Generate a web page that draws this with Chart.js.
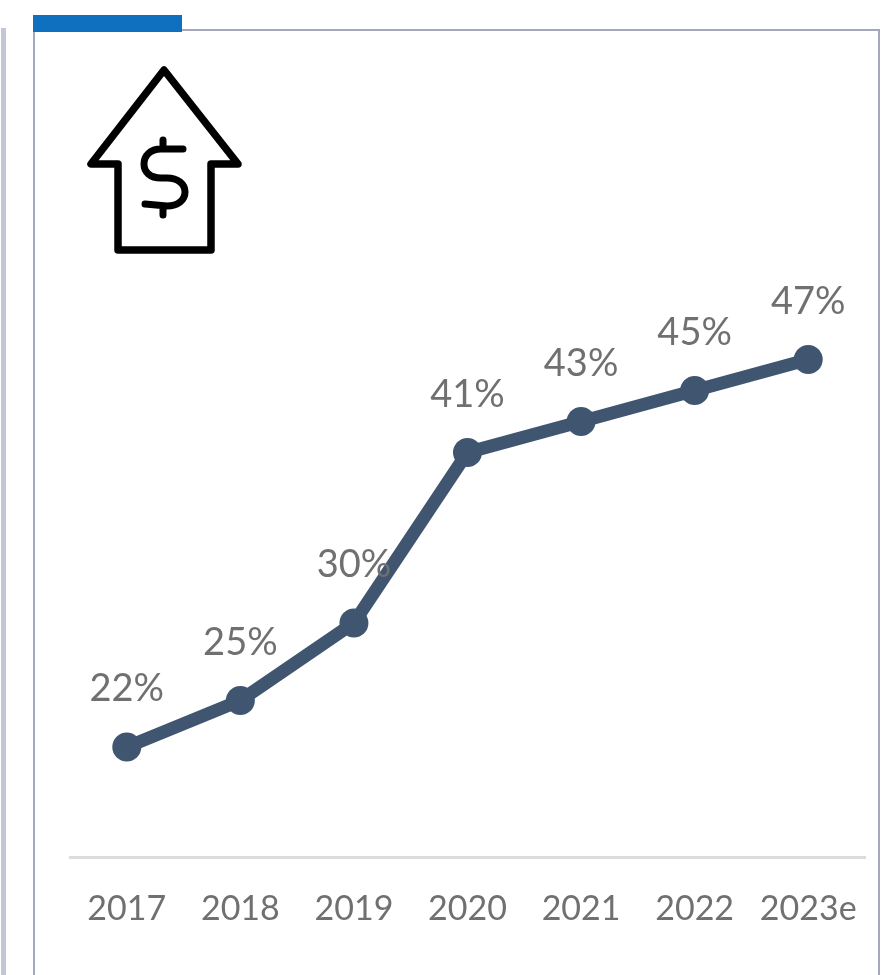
<!DOCTYPE html>
<html>
<head>
<meta charset="utf-8">
<script src="https://cdn.jsdelivr.net/npm/chart.js@4"></script>
<style>
html,body{margin:0;padding:0;background:#fff;width:886px;height:975px;overflow:hidden}
#wrap{position:relative;width:886px;height:975px;filter:blur(0.6px)}
#chart{position:absolute;left:0;top:0}
.frame{position:absolute;left:33px;top:29px;width:847px;height:960px;border:2px solid #a3a8bc;box-sizing:border-box}
.stray{position:absolute;left:1px;top:28px;width:5px;height:960px;background:#c3c6d4}
.tab{position:absolute;left:33px;top:15px;width:149px;height:17px;background:#1070c0}
svg{position:absolute;left:0;top:0}
</style>
</head>
<body>
<div id="wrap">
<div class="stray"></div>
<div class="frame"></div>
<div class="tab"></div>
<canvas id="chart" width="886" height="975"></canvas>
<svg width="886" height="975" fill="none" stroke="#000" stroke-linejoin="round" stroke-linecap="round">
<path stroke-width="7.5" d="M164 70 L91 164 L118 164 L118 250 L211 250 L211 164 L238 164 Z"/>
<path stroke-width="7" d="M183 149 L161 149 C150 149 144 156 144 164 C144 172 150 178 161 178 L167 178 C178 178 185 184 185 192 C185 200 178 206 167 206 L145 204 M163 140 L163 148 M163 206 L163 215"/>
</svg>
</div>
<script>
const categories = ["2017","2018","2019","2020","2021","2022","2023e"];
const shareValues = [22,25,30,41,43,45,47];
const lineColor = "#3f5570";
const textColor = "#707070";

const valueLabels = {
  id: "valueLabels",
  afterDatasetsDraw(chart) {
    const ctx = chart.ctx;
    const meta = chart.getDatasetMeta(0);
    ctx.save();
    ctx.font = '38px Lato, sans-serif';
    ctx.fillStyle = textColor;
    ctx.textAlign = "center";
    ctx.textBaseline = "middle";
    meta.data.forEach((pt, i) => {
      ctx.fillText(shareValues[i] + "%", pt.x, pt.y - 58);
    });
    ctx.restore();
  }
};

new Chart(document.getElementById("chart"), {
  type: "line",
  data: {
    labels: categories,
    datasets: [{
      data: shareValues,
      borderColor: lineColor,
      backgroundColor: lineColor,
      borderWidth: 13,
      pointRadius: 14.5,
      pointBackgroundColor: lineColor,
      pointBorderWidth: 0,
      tension: 0,
      fill: false
    }]
  },
  options: {
    responsive: false,
    animation: false,
    layout: { padding: { left: 70, right: 21, top: 30, bottom: 0 } },
    plugins: { legend: { display: false }, tooltip: { enabled: false }, title: { display: false } },
    scales: {
      y: { display: false, min: 14.9, max: 68.25 },
      x: {
        offset: true,
        afterFit(scale) { scale.height = 118; scale.paddingLeft = 0; scale.paddingRight = 0; },
        grid: { display: false, drawTicks: false },
        border: { display: true, color: "#dcdcdc", width: 3 },
        ticks: {
          color: textColor,
          font: { family: "Lato, sans-serif", size: 34 },
          padding: 32,
          maxRotation: 0,
          autoSkip: false
        }
      }
    }
  },
  plugins: [valueLabels]
});
</script>
</body>
</html>
